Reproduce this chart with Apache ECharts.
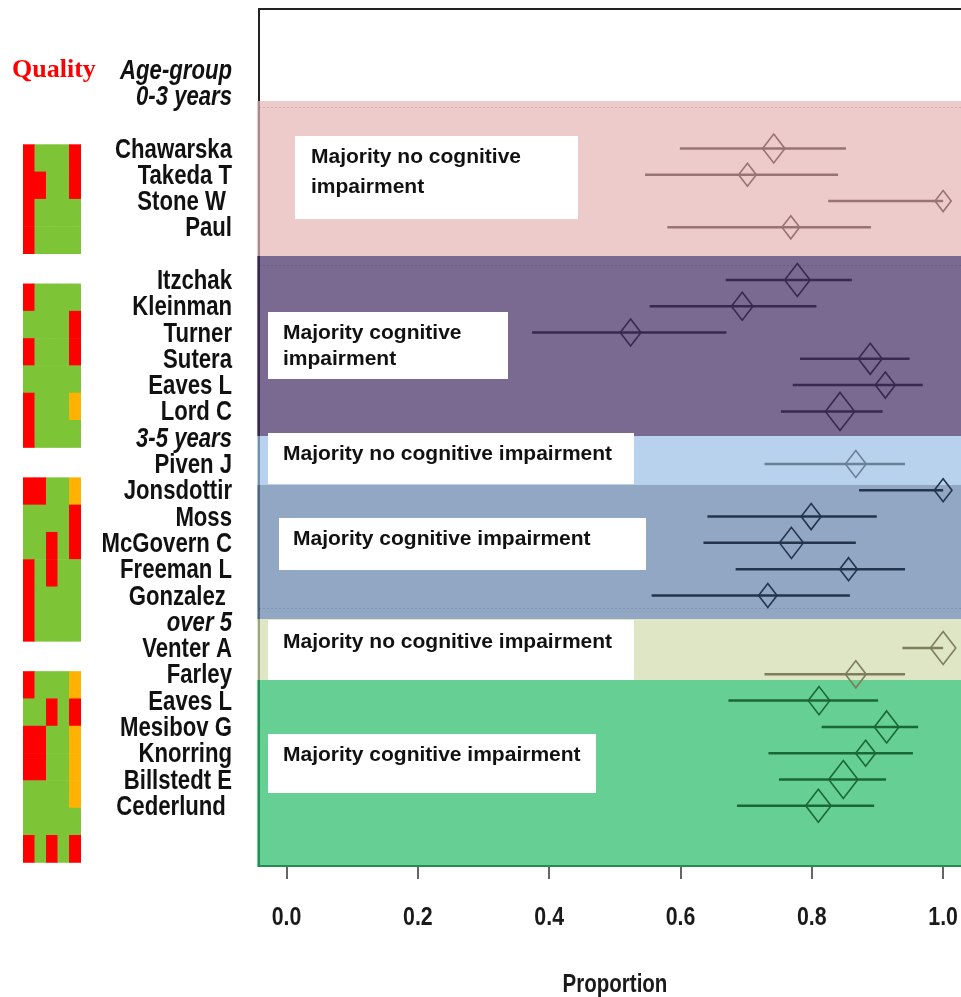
<!DOCTYPE html>
<html>
<head>
<meta charset="utf-8">
<script src="https://cdn.jsdelivr.net/npm/echarts@6/dist/echarts.min.js"></script>
<style>
  html, body { margin: 0; padding: 0; background: #ffffff; }
  #chart { width: 961px; height: 997px; }
</style>
</head>
<body>
<div id="chart"></div>
<script>
// ---- Data -------------------------------------------------------------
// Row captions down the forest plot (row index = position on the y axis)
const rowLabels = [
  'Age-group', '0-3 years', '',
  'Chawarska', 'Takeda T', 'Stone W ', 'Paul', '',
  'Itzchak', 'Kleinman', 'Turner', 'Sutera', 'Eaves L', 'Lord C',
  '3-5 years',
  'Piven J', 'Jonsdottir', 'Moss', 'McGovern C', 'Freeman L', 'Gonzalez ',
  'over 5',
  'Venter A', 'Farley', 'Eaves L', 'Mesibov G', 'Knorring', 'Billstedt E', 'Cederlund '
];
const headerRows = [0, 1, 14, 21];

// One entry per study
const studies = [
  'Chawarska', 'Takeda T', 'Stone W', 'Paul',
  'Itzchak', 'Kleinman', 'Turner', 'Sutera', 'Eaves L', 'Lord C',
  'Piven J', 'Jonsdottir', 'Moss', 'McGovern C', 'Freeman L', 'Gonzalez',
  'Venter A', 'Farley', 'Eaves L', 'Mesibov G', 'Knorring', 'Billstedt E', 'Cederlund'
];
const studyRows = [3, 4, 5, 6, 8, 9, 10, 11, 12, 13, 15, 16, 17, 18, 19, 20, 22, 23, 24, 25, 26, 27, 28];
const estimates = [0.742, 0.702, 1.000, 0.768, 0.778, 0.694, 0.524, 0.889, 0.912, 0.843,
                   0.867, 1.000, 0.799, 0.769, 0.856, 0.733, 1.000, 0.867, 0.811, 0.914, 0.882, 0.848, 0.810];
const lower     = [0.599, 0.546, 0.825, 0.580, 0.669, 0.553, 0.374, 0.782, 0.771, 0.753,
                   0.728, 0.872, 0.641, 0.635, 0.684, 0.556, 0.938, 0.728, 0.673, 0.815, 0.734, 0.750, 0.686];
const upper     = [0.852, 0.840, 1.000, 0.890, 0.861, 0.807, 0.670, 0.949, 0.969, 0.908,
                   0.942, 1.000, 0.899, 0.867, 0.942, 0.858, 1.000, 0.942, 0.901, 0.962, 0.954, 0.913, 0.895];
const weights   = [2.9, 2.3, 2.1, 2.3, 3.3, 2.8, 2.7, 3.1, 2.6, 3.8,
                   2.7, 2.3, 2.6, 3.1, 2.3, 2.4, 3.3, 2.7, 2.8, 3.2, 2.6, 3.8, 3.3];

// Quality assessment, five criteria per study: R = high risk, G = low risk, O = unclear
const quality = [
  'RGGGR', 'RRGGR', 'RGGGG', 'RGGGG',
  'RGGGG', 'GGGGR', 'RGGGR', 'GGGGG', 'RGGGO', 'RGGGG',
  'RRGGO', 'GGGGR', 'GGRGR', 'RGRGG', 'RGGGG', 'RGGGG',
  'RGGGO', 'GGRGR', 'RRGGO', 'RRGGO', 'GGGGO', 'GGGGG', 'RGRGR'
];
const qualityBlocks = [4, 6, 6, 7];

// Outcome bands along the row axis
const bandStart = [1.19, 7.09, 13.94, 15.80, 20.90, 23.22];
const bandEnd   = [7.09, 13.94, 15.80, 20.90, 23.22, 30.33];
const bandText = [
  'Majority no cognitive\nimpairment',
  'Majority cognitive\nimpairment',
  'Majority no cognitive impairment',
  'Majority cognitive impairment',
  'Majority no cognitive impairment',
  'Majority cognitive impairment'
];
const xTicks = [0, 0.2, 0.4, 0.6, 0.8, 1.0];
const dottedRows = [1.42, 7.43, 20.48];

// ---- Styling ----------------------------------------------------------
// Condensed bold face: Liberation Sans Bold squeezed horizontally
const SANS = "'Liberation Sans', Arial, sans-serif";
const NARROW_FONT = 'bold 27px ' + SANS;
const NARROW_ITALIC = 'italic bold 27px ' + SANS;
const SQUEEZE = 0.82;
const bandFill = [
  'rgba(228,181,179,0.7)',
  'rgba(66,42,99,0.7)',
  'rgba(154,191,229,0.7)',
  'rgba(98,129,169,0.7)',
  'rgba(209,219,172,0.7)',
  'rgba(36,186,102,0.7)'
];
const markColor = ['#9a7374', '#38294f', '#6b8197', '#25344d', '#7e7d5c', '#1b6835'];
const qualityColor = { R: '#ff0000', G: '#7dc537', O: '#ffb300' };
const qualityCode = ['R', 'G', 'O'];

// Note boxes drawn over the bands (pixel layout)
const noteLayout = [
  { x: 295, y: 136, w: 283, h: 83, tx: 311, cy: 172, lh: 30 },
  { x: 268, y: 312, w: 240, h: 67, tx: 283, cy: 346.5, lh: 26 },
  { x: 268, y: 433, w: 366, h: 51, tx: 283, cy: 454, lh: 26 },
  { x: 279, y: 518, w: 367, h: 52, tx: 293, cy: 539, lh: 26 },
  { x: 268, y: 620, w: 366, h: 60, tx: 283, cy: 642, lh: 26 },
  { x: 268, y: 734, w: 328, h: 59, tx: 283, cy: 755.5, lh: 26 }
];

// ---- Derived series data ---------------------------------------------
function bandOf(row) {
  for (let k = 0; k < bandStart.length; k++) {
    if (row >= bandStart[k] && row < bandEnd[k]) return k;
  }
  return 0;
}

const forestData = studies.map((s, i) => [estimates[i], studyRows[i], lower[i], upper[i], weights[i]]);
const bandData = bandStart.map((s, k) => [k, s, bandEnd[k]]);
const labelData = rowLabels.map((t, r) => [0, r]).filter(d => rowLabels[d[1]] !== '');
const tickLabelData = xTicks.map(v => [v, 0]);

// quality rows: blocks separated by a gap of 1.1 rows
const qualityData = [];
(function () {
  let study = 0, start = 0;
  qualityBlocks.forEach(n => {
    for (let j = 0; j < n; j++, study++) {
      const codes = quality[study];
      for (let c = 0; c < 5; c++) {
        qualityData.push([c, start + j, qualityCode.indexOf(codes[c])]);
      }
    }
    start += n + 1.1;
  });
})();

// ---- Chart ------------------------------------------------------------
const chart = echarts.init(document.getElementById('chart'), null, { renderer: 'canvas' });

const graphics = [
  {
    type: 'text', x: 12, y: 70, z: 10,
    style: {
      text: 'Quality', fill: '#ff0000', verticalAlign: 'middle',
      font: "bold 26px 'Liberation Serif', 'Times New Roman', serif"
    }
  },
  {
    type: 'text', x: 615, y: 985, z: 10, scaleX: SQUEEZE,
    style: { text: 'Proportion', fill: '#1a1a1a', font: 'bold 25px ' + SANS, align: 'center', verticalAlign: 'middle' }
  }
];
noteLayout.forEach((b, k) => {
  graphics.push({
    type: 'rect', z: 10,
    shape: { x: b.x, y: b.y, width: b.w, height: b.h },
    style: { fill: '#ffffff' }
  });
  graphics.push({
    type: 'text', z: 11, x: b.tx, y: b.cy,
    style: {
      text: bandText[k], fill: '#111111',
      font: 'bold 21px ' + SANS, lineHeight: b.lh,
      verticalAlign: 'middle', align: 'left'
    }
  });
});

const option = {
  animation: false,
  backgroundColor: '#ffffff',
  grid: [
    {
      left: 259, top: 9, width: 723.5, height: 857,
      outerBoundsMode: 'none', containLabel: false,
      show: true, borderColor: '#222222', borderWidth: 2, backgroundColor: 'transparent'
    },
    { left: 23, top: 144.3, width: 57.5, height: 717.7, outerBoundsMode: 'none' }
  ],
  xAxis: [
    {
      gridIndex: 0, type: 'value', min: -0.042, max: 1.06, position: 'bottom',
      axisLine: { show: false, onZero: false },
      splitLine: { show: false },
      axisTick: { show: true, customValues: xTicks, length: 13, lineStyle: { color: '#333333', width: 1.5 } },
      axisLabel: { show: false }
    },
    { gridIndex: 1, type: 'value', min: 0, max: 5, show: false }
  ],
  yAxis: [
    {
      gridIndex: 0, type: 'value', min: -2.305, max: 30.29, inverse: true,
      axisLine: { show: false }, axisTick: { show: false }, splitLine: { show: false },
      axisLabel: { show: false }
    },
    { gridIndex: 1, type: 'value', min: 0, max: 26.29, inverse: true, show: false }
  ],
  graphic: graphics,
  series: [
    {
      // outcome bands
      type: 'custom', xAxisIndex: 0, yAxisIndex: 0, z: 1, silent: true,
      data: bandData,
      renderItem: (params, api) => {
        const cs = params.coordSys;
        const k = api.value(0);
        const y0 = api.coord([0, api.value(1)])[1];
        const y1 = api.coord([0, api.value(2)])[1];
        return {
          type: 'rect',
          shape: { x: cs.x - 2, y: y0, width: cs.width + 2, height: y1 - y0 },
          style: { fill: bandFill[k] }
        };
      }
    },
    {
      // faint dotted rules inside the bands
      type: 'custom', xAxisIndex: 0, yAxisIndex: 0, z: 2, silent: true,
      data: dottedRows.map(r => [0, r]),
      renderItem: (params, api) => {
        const cs = params.coordSys;
        const y = Math.round(api.coord([0, api.value(1)])[1]) + 0.5;
        return {
          type: 'line',
          shape: { x1: cs.x, y1: y, x2: cs.x + cs.width, y2: y },
          style: { stroke: 'rgba(0,0,0,0.12)', lineWidth: 1, lineDash: [2, 2] }
        };
      }
    },
    {
      // row captions to the left of the frame
      type: 'custom', xAxisIndex: 0, yAxisIndex: 0, z: 5, silent: true,
      encode: { x: 0, y: 1 },
      data: labelData,
      renderItem: (params, api) => {
        const cs = params.coordSys;
        const r = api.value(1);
        const y = api.coord([0, r])[1] + 1.6;
        return {
          type: 'text', x: cs.x - 27, y: y, scaleX: SQUEEZE,
          style: {
            text: rowLabels[r], fill: '#111111',
            font: headerRows.indexOf(r) >= 0 ? NARROW_ITALIC : NARROW_FONT,
            align: 'right', verticalAlign: 'middle'
          }
        };
      }
    },
    {
      // x tick labels
      type: 'custom', xAxisIndex: 0, yAxisIndex: 0, z: 5, silent: true,
      encode: { x: 0, y: 1 },
      data: tickLabelData,
      renderItem: (params, api) => {
        const cs = params.coordSys;
        const x = api.coord([api.value(0), 0])[0];
        return {
          type: 'text', x: x, y: cs.y + cs.height + 52, scaleX: SQUEEZE,
          style: {
            text: api.value(0).toFixed(1), fill: '#1a1a1a', font: 'bold 26px ' + SANS,
            align: 'center', verticalAlign: 'middle'
          }
        };
      }
    },
    {
      // confidence intervals with weighted diamonds
      type: 'custom', xAxisIndex: 0, yAxisIndex: 0, z: 20, silent: true,
      encode: { x: 0, y: 1 },
      data: forestData,
      renderItem: (params, api) => {
        const row = api.value(1);
        const c = api.coord([api.value(0), row]);
        const lo = api.coord([api.value(2), row]);
        const hi = api.coord([api.value(3), row]);
        const h = api.value(4) * 10;
        const w = h * 0.77;
        const col = markColor[bandOf(row)];
        return {
          type: 'group',
          children: [
            {
              type: 'line',
              shape: { x1: lo[0], y1: c[1], x2: hi[0], y2: c[1] },
              style: { stroke: col, lineWidth: 2.5 }
            },
            {
              type: 'polygon',
              shape: { points: [[c[0], c[1] - h / 2], [c[0] + w / 2, c[1]], [c[0], c[1] + h / 2], [c[0] - w / 2, c[1]]] },
              style: { fill: 'none', stroke: col, lineWidth: 1.6 }
            }
          ]
        };
      }
    },
    {
      // quality grid
      type: 'custom', xAxisIndex: 1, yAxisIndex: 1, z: 5, silent: true,
      encode: { x: 0, y: 1 },
      data: qualityData,
      renderItem: (params, api) => {
        const p0 = api.coord([api.value(0), api.value(1)]);
        const p1 = api.coord([api.value(0) + 1, api.value(1) + 1]);
        return {
          type: 'rect',
          shape: { x: p0[0], y: p0[1], width: p1[0] - p0[0] + 0.5, height: p1[1] - p0[1] + 0.5 },
          style: { fill: qualityColor[qualityCode[api.value(2)]] }
        };
      }
    }
  ]
};

chart.setOption(option);
</script>
</body>
</html>
